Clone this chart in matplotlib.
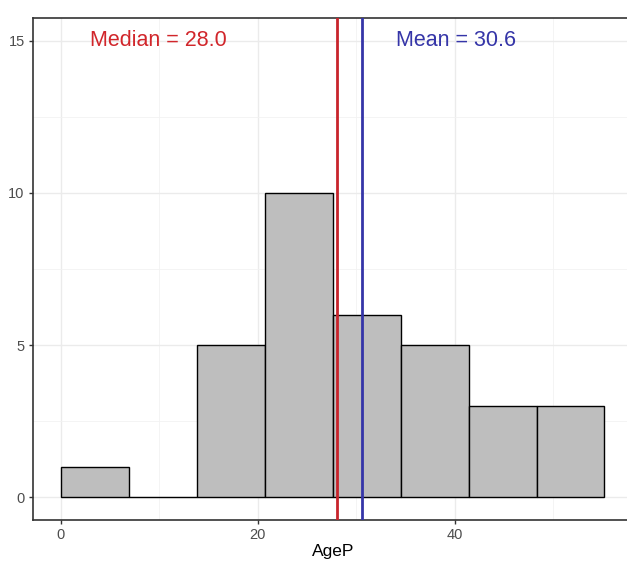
import numpy as np
import matplotlib
matplotlib.use('Agg')
import matplotlib.pyplot as plt
from matplotlib.ticker import MultipleLocator

plt.rcParams['font.family'] = ['Liberation Sans', 'DejaVu Sans']

# histogram of AgeP (8 bins)
bin_edges = [0, 6.9, 13.8, 20.7, 27.6, 34.5, 41.4, 48.3, 55.2]
counts = [1, 0, 5, 10, 6, 5, 3, 3]
median_age = 28.0
mean_age = 30.6

fig = plt.figure(figsize=(6.27, 5.61), dpi=100)
ax = fig.add_axes([33/627, 1 - 520/561, 600/627, 502/561])

widths = np.diff(bin_edges)
ax.bar(bin_edges[:-1], counts, width=widths, align='edge',
       color='#BEBEBE', edgecolor='black', linewidth=1.0, zorder=2)

ax.axvline(median_age, color='#C8242B', linewidth=2, zorder=3)
ax.axvline(mean_age, color='#3535A8', linewidth=2, zorder=3)

ax.text(9.9, 15, 'Median = %.1f' % median_age, color='#D1262B',
        fontsize=15.5, ha='center', va='center', zorder=4)
ax.text(40.1, 15, 'Mean = %.1f' % mean_age, color='#3535A8',
        fontsize=15.5, ha='center', va='center', zorder=4)

ax.set_xlim(-2.84, 58.1)
ax.set_ylim(-0.75, 15.75)
ax.xaxis.set_major_locator(MultipleLocator(20))
ax.xaxis.set_minor_locator(MultipleLocator(10))
ax.yaxis.set_major_locator(MultipleLocator(5))
ax.yaxis.set_minor_locator(MultipleLocator(2.5))
ax.grid(which='major', color='#EBEBEB', linewidth=1.0, zorder=0)
ax.grid(which='minor', color='#F2F2F2', linewidth=0.6, zorder=0)
ax.set_axisbelow(True)

ax.tick_params(which='major', length=3, width=1, color='#333333',
               labelcolor='#4D4D4D', labelsize=10.5, pad=3)
ax.tick_params(which='minor', length=0)
for s in ax.spines.values():
    s.set_color('#333333')
    s.set_linewidth(1.2)

ax.set_xlabel('AgeP', fontsize=12.5, color='black', labelpad=1)

fig.savefig('out.png', dpi=100)
